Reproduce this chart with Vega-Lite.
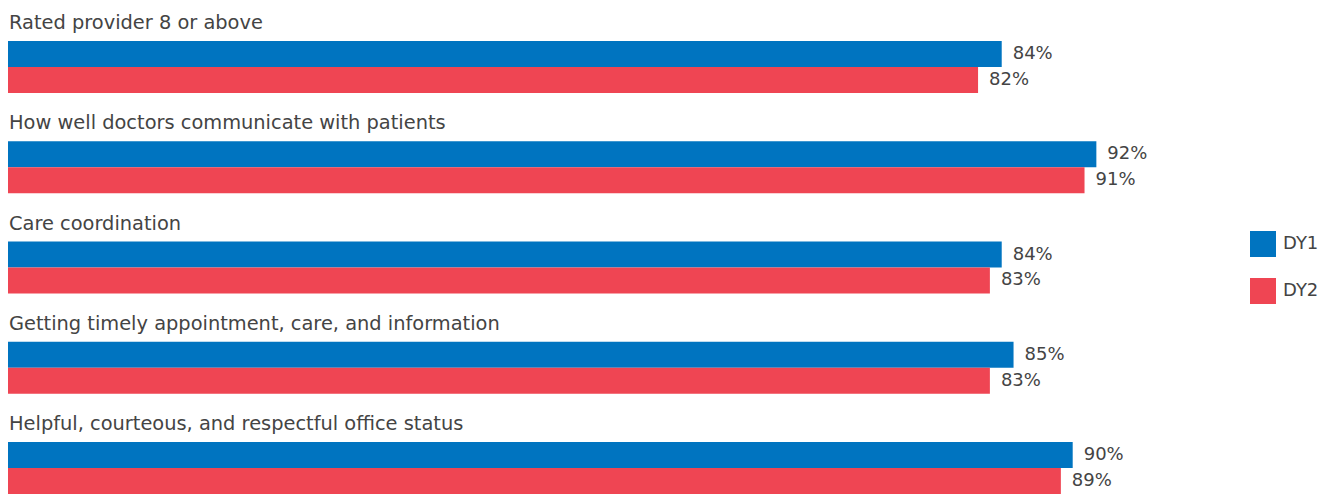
{
  "$schema": "https://vega.github.io/schema/vega-lite/v6.json",
  "width": 1183,
  "height": 453,
  "autosize": {"type": "none"},
  "padding": {"left": 8, "top": 41, "right": 140, "bottom": 0},
  "background": "white",
  "config": {"view": {"stroke": null}, "font": "DejaVu Sans"},
  "data": {
    "values": [
      {"category": "Rated provider 8 or above", "series": "DY1", "value": 0.84},
      {"category": "Rated provider 8 or above", "series": "DY2", "value": 0.82},
      {"category": "How well doctors communicate with patients", "series": "DY1", "value": 0.92},
      {"category": "How well doctors communicate with patients", "series": "DY2", "value": 0.91},
      {"category": "Care coordination", "series": "DY1", "value": 0.84},
      {"category": "Care coordination", "series": "DY2", "value": 0.83},
      {"category": "Getting timely appointment, care, and information", "series": "DY1", "value": 0.85},
      {"category": "Getting timely appointment, care, and information", "series": "DY2", "value": 0.83},
      {"category": "Helpful, courteous, and respectful office status", "series": "DY1", "value": 0.90},
      {"category": "Helpful, courteous, and respectful office status", "series": "DY2", "value": 0.89}
    ]
  },
  "encoding": {
    "y": {
      "field": "category",
      "type": "nominal",
      "sort": null,
      "axis": null,
      "scale": {"paddingInner": 0.4813, "paddingOuter": 0}
    }
  },
  "layer": [
    {
      "mark": {"type": "bar"},
      "encoding": {
        "x": {"field": "value", "type": "quantitative", "scale": {"domain": [0, 1]}, "axis": null},
        "yOffset": {"field": "series", "type": "nominal", "scale": {"paddingInner": 0, "paddingOuter": 0}},
        "color": {
          "field": "series",
          "type": "nominal",
          "scale": {"domain": ["DY1", "DY2"], "range": ["#0074C0", "#EF4553"]},
          "legend": {
            "orient": "none",
            "legendX": 1242,
            "legendY": 190,
            "title": null,
            "symbolType": "square",
            "symbolSize": 676,
            "symbolStrokeWidth": 0,
            "symbolOpacity": 1,
            "labelFontSize": 18,
            "labelFont": "DejaVu Sans",
            "labelColor": "#444444",
            "labelOffset": 7,
            "rowPadding": 21,
            "padding": 0
          }
        }
      }
    },
    {
      "mark": {"type": "text", "align": "left", "baseline": "middle", "dx": 11, "fontSize": 18, "color": "#444444"},
      "encoding": {
        "x": {"field": "value", "type": "quantitative"},
        "yOffset": {"field": "series", "type": "nominal"},
        "text": {"field": "value", "format": ".0%"}
      }
    },
    {
      "transform": [{"filter": "datum.series === 'DY1'"}],
      "mark": {"type": "text", "align": "left", "baseline": "alphabetic", "dy": -12, "dx": 1, "fontSize": 19.4, "color": "#444444"},
      "encoding": {
        "x": {"datum": 0, "type": "quantitative"},
        "y": {"field": "category", "type": "nominal", "sort": null, "axis": null, "bandPosition": 0},
        "text": {"field": "category"}
      }
    }
  ]
}
